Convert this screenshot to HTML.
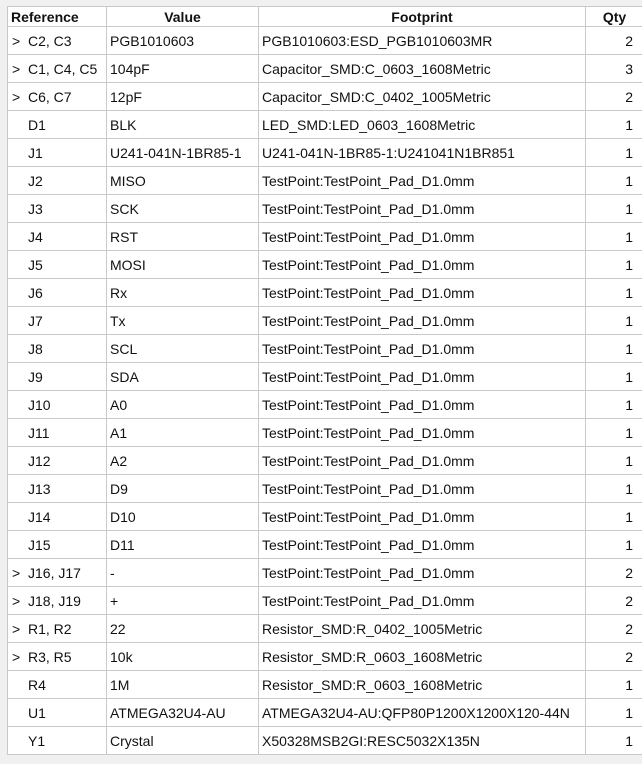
<!DOCTYPE html>
<html><head><meta charset="utf-8"><style>
body{margin:0;width:642px;height:764px;background:#f0f0f0;overflow:hidden;font-family:"Liberation Sans",sans-serif;}
table{position:absolute;left:7px;top:6px;border-collapse:collapse;background:#fff;table-layout:fixed;width:636px;}
td,th{border:1px solid #c9c9c9;font-size:14px;color:#111;padding:0 0 0 3px;white-space:nowrap;overflow:hidden;}
th{height:19px;font-weight:bold;text-align:center;padding:0;}
td{height:27px;}
td.q{text-align:right;padding-right:10px;}
td.r{padding-left:4px;}
</style></head><body>
<table>
<colgroup><col style="width:99px"><col style="width:152px"><col style="width:327px"><col style="width:58px"></colgroup>
<thead><tr>
<th style="text-align:left;padding-left:3px">Reference</th>
<th>Value</th>
<th>Footprint</th>
<th>Qty</th></tr></thead>
<tbody id="tb"></tbody></table>
<script>
const rows=[
[">","C2, C3","PGB1010603","PGB1010603:ESD_PGB1010603MR",2],
[">","C1, C4, C5","104pF","Capacitor_SMD:C_0603_1608Metric",3],
[">","C6, C7","12pF","Capacitor_SMD:C_0402_1005Metric",2],
["","D1","BLK","LED_SMD:LED_0603_1608Metric",1],
["","J1","U241-041N-1BR85-1","U241-041N-1BR85-1:U241041N1BR851",1],
["","J2","MISO","TestPoint:TestPoint_Pad_D1.0mm",1],
["","J3","SCK","TestPoint:TestPoint_Pad_D1.0mm",1],
["","J4","RST","TestPoint:TestPoint_Pad_D1.0mm",1],
["","J5","MOSI","TestPoint:TestPoint_Pad_D1.0mm",1],
["","J6","Rx","TestPoint:TestPoint_Pad_D1.0mm",1],
["","J7","Tx","TestPoint:TestPoint_Pad_D1.0mm",1],
["","J8","SCL","TestPoint:TestPoint_Pad_D1.0mm",1],
["","J9","SDA","TestPoint:TestPoint_Pad_D1.0mm",1],
["","J10","A0","TestPoint:TestPoint_Pad_D1.0mm",1],
["","J11","A1","TestPoint:TestPoint_Pad_D1.0mm",1],
["","J12","A2","TestPoint:TestPoint_Pad_D1.0mm",1],
["","J13","D9","TestPoint:TestPoint_Pad_D1.0mm",1],
["","J14","D10","TestPoint:TestPoint_Pad_D1.0mm",1],
["","J15","D11","TestPoint:TestPoint_Pad_D1.0mm",1],
[">","J16, J17","-","TestPoint:TestPoint_Pad_D1.0mm",2],
[">","J18, J19","+","TestPoint:TestPoint_Pad_D1.0mm",2],
[">","R1, R2","22","Resistor_SMD:R_0402_1005Metric",2],
[">","R3, R5","10k","Resistor_SMD:R_0603_1608Metric",2],
["","R4","1M","Resistor_SMD:R_0603_1608Metric",1],
["","U1","ATMEGA32U4-AU","ATMEGA32U4-AU:QFP80P1200X1200X120-44N",1],
["","Y1","Crystal","X50328MSB2GI:RESC5032X135N",1]];
const tb=document.getElementById('tb');
rows.forEach(r=>{
 const tr=document.createElement('tr');
 
 
 const c0=document.createElement('td');c0.className='r';
 c0.innerHTML='<span style="display:inline-block;width:16px">'+(r[0]?'&gt;':'')+'</span>'+r[1];
 
 
 const c1=document.createElement('td');c1.textContent=r[2];
 
 
 const c2=document.createElement('td');c2.textContent=r[3];
 
 
 const c3=document.createElement('td');c3.className='q';c3.textContent=r[4];
 
 
 tr.append(c0,c1,c2,c3);tb.appendChild(tr);
});
</script></body></html>
